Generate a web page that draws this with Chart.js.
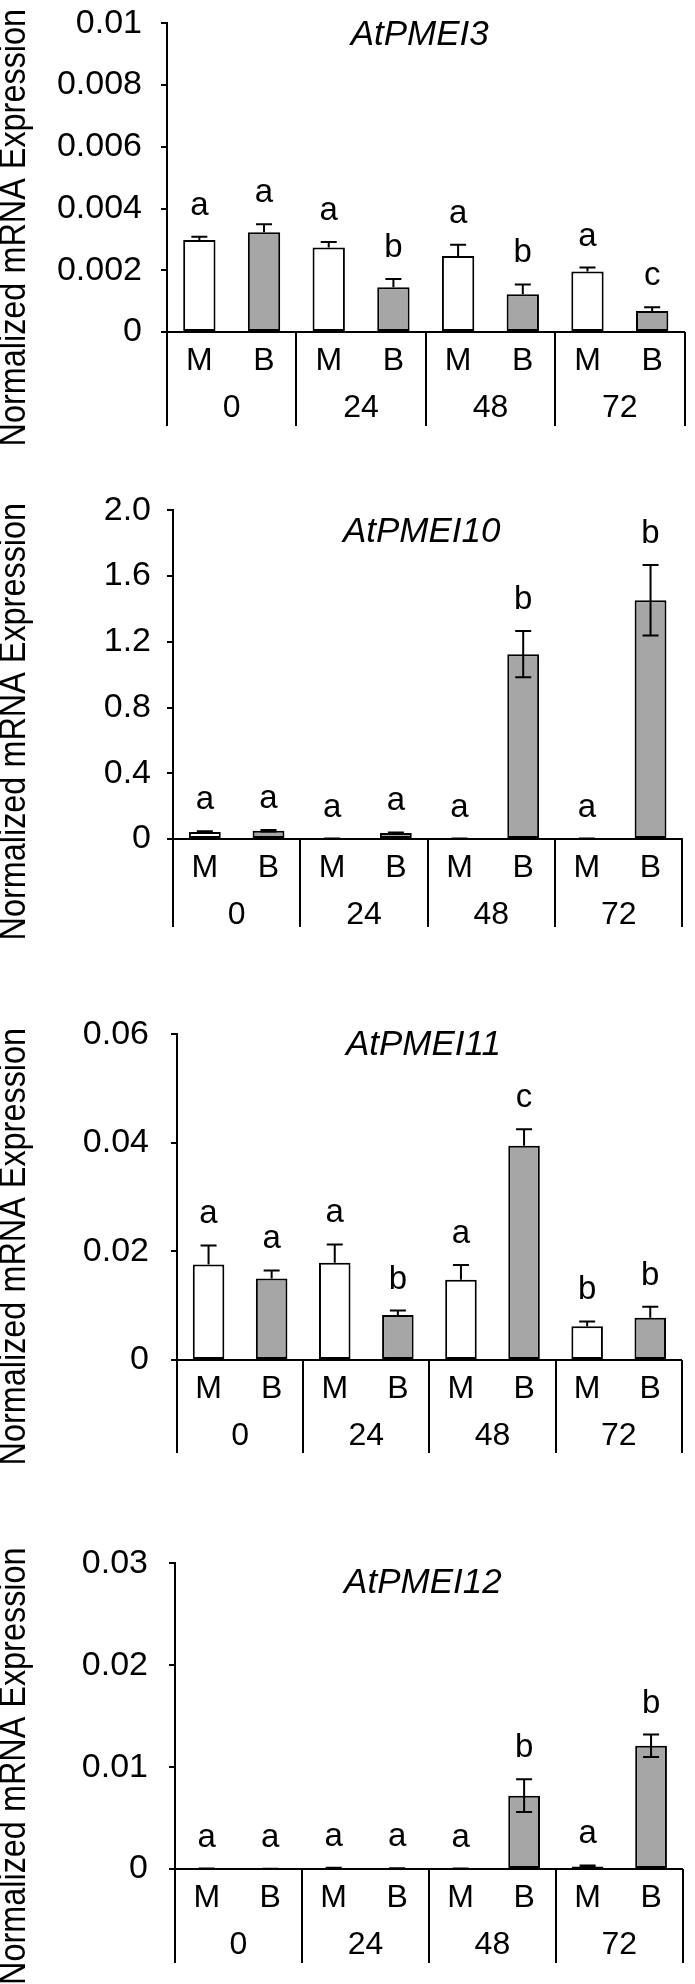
<!DOCTYPE html>
<html>
<head>
<meta charset="utf-8">
<script src="https://cdn.jsdelivr.net/npm/chart.js@4.4.1/dist/chart.umd.min.js"></script>
<style>
body { margin:0; background:#fff; width:695px; height:1984px; position:relative; overflow:hidden; }
canvas { position:absolute; left:0; }
</style>
</head>
<body>
<canvas id="pmei3"></canvas>
<canvas id="pmei10"></canvas>
<canvas id="pmei11"></canvas>
<canvas id="pmei12"></canvas>
<script>
// hours after treatment, and the two treatments (M = mock, B = Botrytis)
const times = ['0', '24', '48', '72'];
const treatments = ['M', 'B'];
const yTitle = 'Normalized mRNA Expression';

// AtPMEI3
const pmei3M = [0.00298, 0.00274, 0.00246, 0.00196];
const pmei3B = [0.00323, 0.00145, 0.00122, 0.00068];
const pmei3MErr = [0.00011, 0.00018, 0.00037, 0.00013];
const pmei3BErr = [0.00026, 0.00027, 0.00032, 0.00012];
const pmei3MSig = ['a', 'a', 'a', 'a'];
const pmei3BSig = ['a', 'b', 'b', 'c'];
const pmei3Ticks = ['0', '0.002', '0.004', '0.006', '0.008', '0.01'];

// AtPMEI10
const pmei10M = [0.042, 0.002, 0.002, 0.002];
const pmei10B = [0.05, 0.037, 1.125, 1.453];
const pmei10MErr = [0.005, 0.001, 0.001, 0.001];
const pmei10BErr = [0.005, 0.003, 0.141, 0.215];
const pmei10MSig = ['a', 'a', 'a', 'a'];
const pmei10BSig = ['a', 'a', 'b', 'b'];
const pmei10Ticks = ['0', '0.4', '0.8', '1.2', '1.6', '2.0'];

// AtPMEI11
const pmei11M = [0.0176, 0.0179, 0.0148, 0.0062];
const pmei11B = [0.0150, 0.0083, 0.0395, 0.0078];
const pmei11MErr = [0.0035, 0.0034, 0.0027, 0.0009];
const pmei11BErr = [0.0015, 0.0008, 0.0030, 0.0020];
const pmei11MSig = ['a', 'a', 'a', 'b'];
const pmei11BSig = ['a', 'b', 'c', 'b'];
const pmei11Ticks = ['0', '0.02', '0.04', '0.06'];

// AtPMEI12
const pmei12M = [0.00003, 0.0001, 0.00003, 0.00025];
const pmei12B = [0.00002, 0.00005, 0.0072, 0.0121];
const pmei12MErr = [0.00001, 0.00003, 0.00001, 0.0001];
const pmei12BErr = [0.00001, 0.00002, 0.0016, 0.0011];
const pmei12MSig = ['a', 'a', 'a', 'a'];
const pmei12BSig = ['a', 'a', 'b', 'b'];
const pmei12Ticks = ['0', '0.01', '0.02', '0.03'];

const FONT = "'Liberation Sans', Arial, sans-serif";
Chart.defaults.font.family = FONT;
Chart.defaults.color = '#000';

const PAD_TOP = 30;
const PAD_BOTTOM = 30;

function makePanel(id, gene, mVals, bVals, mErr, bErr, mSig, bSig, tickLabels, yMax, yStep, bothWays, box) {
    // box: top of y axis, zero line, bottom of separators, y axis x, right end, title offset
    let canvas = document.getElementById(id);
    canvas.width = 695;
    canvas.height = (box.bottom - box.top) + PAD_TOP + PAD_BOTTOM;
    canvas.style.top = (box.top - PAD_TOP) + 'px';

    let errs = [mErr, bErr];
    let sigs = [mSig, bSig];

    const extras = {
        id: 'extras_' + id,
        afterDatasetsDraw(chart) {
            let ctx = chart.ctx;
            let yScale = chart.scales.y;
            ctx.save();
            ctx.strokeStyle = '#000';
            ctx.lineWidth = 2;
            ctx.fillStyle = '#000';
            ctx.font = '33px ' + FONT;
            ctx.textAlign = 'center';
            ctx.textBaseline = 'alphabetic';
            for (let d = 0; d < 2; d++) {
                let meta = chart.getDatasetMeta(d);
                let vals = chart.data.datasets[d].data;
                meta.data.forEach((bar, i) => {
                    let v = vals[i];
                    let e = errs[d][i];
                    let yTop = yScale.getPixelForValue(v + e);
                    let yBot = bothWays ? yScale.getPixelForValue(Math.max(v - e, 0)) : yScale.getPixelForValue(v);
                    ctx.beginPath();
                    ctx.moveTo(bar.x, yBot);
                    ctx.lineTo(bar.x, yTop);
                    ctx.moveTo(bar.x - 8, yTop);
                    ctx.lineTo(bar.x + 8, yTop);
                    if (bothWays) {
                        ctx.moveTo(bar.x - 8, yBot);
                        ctx.lineTo(bar.x + 8, yBot);
                    }
                    ctx.stroke();
                    ctx.fillText(sigs[d][i], bar.x, yTop - 22);
                });
            }
            ctx.restore();
        },
        afterDraw(chart) {
            let ctx = chart.ctx;
            let area = chart.chartArea;
            let xScale = chart.scales.x;
            ctx.save();
            ctx.strokeStyle = '#000';
            ctx.fillStyle = '#000';
            ctx.lineWidth = 2;

            // group separators
            ctx.beginPath();
            for (let i = 0; i <= times.length; i++) {
                let x = Math.round(xScale.getPixelForValue(i - 0.5));
                ctx.moveTo(x, area.bottom);
                ctx.lineTo(x, xScale.bottom);
            }
            ctx.stroke();

            // M / B under each bar
            ctx.font = '32px ' + FONT;
            ctx.textAlign = 'center';
            ctx.textBaseline = 'middle';
            for (let d = 0; d < 2; d++) {
                chart.getDatasetMeta(d).data.forEach(bar => {
                    ctx.fillText(treatments[d], bar.x, area.bottom + 29);
                });
            }

            // gene name
            ctx.font = 'italic 35px ' + FONT;
            ctx.fillText(gene, (area.left + area.right) / 2 - 6, area.top + box.titleDy);

            // y axis title, centred on axis + category rows, slightly condensed
            ctx.font = '36px ' + FONT;
            ctx.translate(15, (area.top + xScale.bottom) / 2 + 3);
            ctx.rotate(-Math.PI / 2);
            ctx.scale(0.9, 1);
            ctx.fillText(yTitle, 0, 0);
            ctx.restore();
        }
    };

    new Chart(canvas.getContext('2d'), {
        type: 'bar',
        data: {
            labels: times,
            datasets: [
                { label: treatments[0], data: mVals, backgroundColor: '#ffffff', borderColor: '#000', borderWidth: 2, borderSkipped: false, barPercentage: 0.5, categoryPercentage: 1 },
                { label: treatments[1], data: bVals, backgroundColor: '#a6a6a6', borderColor: '#000', borderWidth: 2, borderSkipped: false, barPercentage: 0.5, categoryPercentage: 1 }
            ]
        },
        options: {
            responsive: false,
            animation: false,
            layout: { padding: { top: PAD_TOP, bottom: PAD_BOTTOM, left: 0, right: 695 - box.right } },
            plugins: { legend: { display: false }, tooltip: { enabled: false }, title: { display: false } },
            scales: {
                x: {
                    grid: { display: false, drawTicks: false, tickLength: 0 },
                    border: { display: true, color: '#000', width: 2 },
                    ticks: { font: { size: 32 }, padding: 57, maxRotation: 0, autoSkip: false },
                    afterFit: s => { s.height = box.bottom - box.zero; }
                },
                y: {
                    min: 0,
                    max: yMax,
                    ticks: { stepSize: yStep, font: { size: 34 }, padding: box.tickPad, callback: (v, i) => tickLabels[i] },
                    grid: { drawOnChartArea: false, drawTicks: true, tickLength: 6, color: '#000', lineWidth: 2 },
                    border: { display: true, color: '#000', width: 2 },
                    afterFit: s => { s.width = box.axisX; }
                }
            }
        },
        plugins: [extras]
    });
}

makePanel('pmei3', 'AtPMEI3', pmei3M, pmei3B, pmei3MErr, pmei3BErr, pmei3MSig, pmei3BSig, pmei3Ticks, 0.01, 0.002, false,
    { top: 14, zero: 332, bottom: 426, axisX: 167, right: 692, titleDy: 12, tickPad: 19 });
makePanel('pmei10', 'AtPMEI10', pmei10M, pmei10B, pmei10MErr, pmei10BErr, pmei10MSig, pmei10BSig, pmei10Ticks, 2.0, 0.4, true,
    { top: 504, zero: 839, bottom: 927, axisX: 173, right: 683, titleDy: 22, tickPad: 16 });
makePanel('pmei11', 'AtPMEI11', pmei11M, pmei11B, pmei11MErr, pmei11BErr, pmei11MSig, pmei11BSig, pmei11Ticks, 0.06, 0.02, false,
    { top: 1022, zero: 1360, bottom: 1453, axisX: 177, right: 683, titleDy: 11, tickPad: 22 });
makePanel('pmei12', 'AtPMEI12', pmei12M, pmei12B, pmei12MErr, pmei12BErr, pmei12MSig, pmei12BSig, pmei12Ticks, 0.03, 0.01, true,
    { top: 1552, zero: 1869, bottom: 1963, axisX: 175, right: 688, titleDy: 20, tickPad: 21 });
</script>
</body>
</html>
